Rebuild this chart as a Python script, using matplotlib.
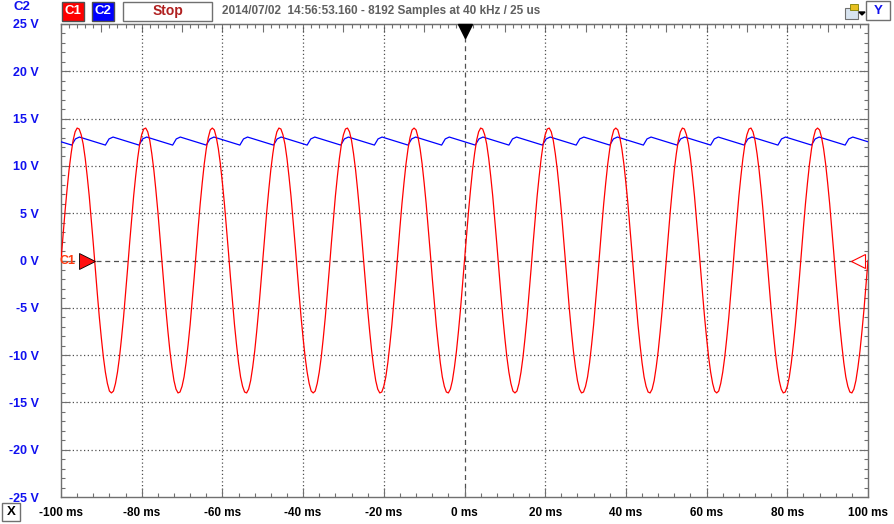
import numpy as np
import matplotlib
matplotlib.use("Agg")
import matplotlib.pyplot as plt
from matplotlib.patches import Rectangle, Polygon
import matplotlib.transforms as mtransforms

# ---------------- data ----------------
# channel C1 (red) sampled every 0.5 ms from -100 ms to +100 ms (volts)
c1_values = [
    0, 2.6, 5.2, 7.5, 9.6, 11.3, 12.7, 13.6, 14.0, 13.9, 13.3, 12.3, 10.8, 8.9, 6.8, 4.3, 1.8, -0.9, -3.5, -6.0,
    -8.2, -10.2, -11.8, -13.0, -13.8, -14.0, -13.8, -13.0, -11.8, -10.2, -8.2, -6.0, -3.5, -0.9, 1.8, 4.3, 6.8, 8.9, 10.8, 12.3,
    13.3, 13.9, 14.0, 13.6, 12.7, 11.3, 9.6, 7.5, 5.2, 2.6,
    0, -2.6, -5.2, -7.5, -9.6, -11.3, -12.7, -13.6, -14.0, -13.9, -13.3, -12.3, -10.8, -8.9, -6.8, -4.3, -1.8, 0.9, 3.5, 6.0,
    8.2, 10.2, 11.8, 13.0, 13.8, 14.0, 13.8, 13.0, 11.8, 10.2, 8.2, 6.0, 3.5, 0.9, -1.8, -4.3, -6.8, -8.9, -10.8, -12.3,
    -13.3, -13.9, -14.0, -13.6, -12.7, -11.3, -9.6, -7.5, -5.2, -2.6,
    0, 2.6, 5.2, 7.5, 9.6, 11.3, 12.7, 13.6, 14.0, 13.9, 13.3, 12.3, 10.8, 8.9, 6.8, 4.3, 1.8, -0.9, -3.5, -6.0,
    -8.2, -10.2, -11.8, -13.0, -13.8, -14.0, -13.8, -13.0, -11.8, -10.2, -8.2, -6.0, -3.5, -0.9, 1.8, 4.3, 6.8, 8.9, 10.8, 12.3,
    13.3, 13.9, 14.0, 13.6, 12.7, 11.3, 9.6, 7.5, 5.2, 2.6,
    0, -2.6, -5.2, -7.5, -9.6, -11.3, -12.7, -13.6, -14.0, -13.9, -13.3, -12.3, -10.8, -8.9, -6.8, -4.3, -1.8, 0.9, 3.5, 6.0,
    8.2, 10.2, 11.8, 13.0, 13.8, 14.0, 13.8, 13.0, 11.8, 10.2, 8.2, 6.0, 3.5, 0.9, -1.8, -4.3, -6.8, -8.9, -10.8, -12.3,
    -13.3, -13.9, -14.0, -13.6, -12.7, -11.3, -9.6, -7.5, -5.2, -2.6,
    0, 2.6, 5.2, 7.5, 9.6, 11.3, 12.7, 13.6, 14.0, 13.9, 13.3, 12.3, 10.8, 8.9, 6.8, 4.3, 1.8, -0.9, -3.5, -6.0,
    -8.2, -10.2, -11.8, -13.0, -13.8, -14.0, -13.8, -13.0, -11.8, -10.2, -8.2, -6.0, -3.5, -0.9, 1.8, 4.3, 6.8, 8.9, 10.8, 12.3,
    13.3, 13.9, 14.0, 13.6, 12.7, 11.3, 9.6, 7.5, 5.2, 2.6,
    0, -2.6, -5.2, -7.5, -9.6, -11.3, -12.7, -13.6, -14.0, -13.9, -13.3, -12.3, -10.8, -8.9, -6.8, -4.3, -1.8, 0.9, 3.5, 6.0,
    8.2, 10.2, 11.8, 13.0, 13.8, 14.0, 13.8, 13.0, 11.8, 10.2, 8.2, 6.0, 3.5, 0.9, -1.8, -4.3, -6.8, -8.9, -10.8, -12.3,
    -13.3, -13.9, -14.0, -13.6, -12.7, -11.3, -9.6, -7.5, -5.2, -2.6,
    0, 2.6, 5.2, 7.5, 9.6, 11.3, 12.7, 13.6, 14.0, 13.9, 13.3, 12.3, 10.8, 8.9, 6.8, 4.3, 1.8, -0.9, -3.5, -6.0,
    -8.2, -10.2, -11.8, -13.0, -13.8, -14.0, -13.8, -13.0, -11.8, -10.2, -8.2, -6.0, -3.5, -0.9, 1.8, 4.3, 6.8, 8.9, 10.8, 12.3,
    13.3, 13.9, 14.0, 13.6, 12.7, 11.3, 9.6, 7.5, 5.2, 2.6,
    0, -2.6, -5.2, -7.5, -9.6, -11.3, -12.7, -13.6, -14.0, -13.9, -13.3, -12.3, -10.8, -8.9, -6.8, -4.3, -1.8, 0.9, 3.5, 6.0,
    8.2, 10.2, 11.8, 13.0, 13.8, 14.0, 13.8, 13.0, 11.8, 10.2, 8.2, 6.0, 3.5, 0.9, -1.8, -4.3, -6.8, -8.9, -10.8, -12.3,
    -13.3, -13.9, -14.0, -13.6, -12.7, -11.3, -9.6, -7.5, -5.2, -2.6,
    0,
]
c1_times = np.linspace(-100, 100, len(c1_values))

# channel C2 (blue) ripple vertices: time (ms), value (V)
c2_times = [
    -100.0,
    -97.33, -96.43, -95.43, -89.00, -88.10, -87.10, -80.67, -79.77, -78.77,
    -72.33, -71.43, -70.43, -64.00, -63.10, -62.10, -55.67, -54.77, -53.77,
    -47.33, -46.43, -45.43, -39.00, -38.10, -37.10, -30.67, -29.77, -28.77,
    -22.33, -21.43, -20.43, -14.00, -13.10, -12.10, -5.67, -4.77, -3.77,
    2.67, 3.57, 4.57, 11.00, 11.90, 12.90, 19.33, 20.23, 21.23,
    27.67, 28.57, 29.57, 36.00, 36.90, 37.90, 44.33, 45.23, 46.23,
    52.67, 53.57, 54.57, 61.00, 61.90, 62.90, 69.33, 70.23, 71.23,
    77.67, 78.57, 79.57, 86.00, 86.90, 87.90, 94.33, 95.23, 96.23,
    100.0,
]
c2_values = [12.55] + [12.2, 12.85, 13.05] * 24 + [12.55]

x_ticks = [-100, -80, -60, -40, -20, 0, 20, 40, 60, 80, 100]
x_labels = ["-100 ms", "-80 ms", "-60 ms", "-40 ms", "-20 ms", "0 ms",
            "20 ms", "40 ms", "60 ms", "80 ms", "100 ms"]
y_ticks = [-25, -20, -15, -10, -5, 0, 5, 10, 15, 20, 25]
y_labels = ["-25 V", "-20 V", "-15 V", "-10 V", "-5 V", "0 V",
            "5 V", "10 V", "15 V", "20 V", "25 V"]

title_text = "2014/07/02  14:56:53.160 - 8192 Samples at 40 kHz / 25 us"

# ---------------- figure ----------------
plt.rcParams['font.family'] = ['Liberation Sans', 'DejaVu Sans']
W, H = 894, 524
fig = plt.figure(figsize=(W / 100, H / 100), dpi=100)
fig.patch.set_facecolor('white')

def fx(px):
    return px / W

def fy(py):
    return 1 - py / H

ax = fig.add_axes([fx(61), fy(497), fx(868) - fx(61), fy(24) - fy(497)])
ax.set_xlim(-100, 100)
ax.set_ylim(-25, 25)
ax.set_facecolor('white')

frame_col = '#707070'
for s in ax.spines.values():
    s.set_color(frame_col)
    s.set_linewidth(1.0)

# grid (dotted) except zero lines (dashed)
grid_col = '#505050'
for v in y_ticks:
    if v in (-25, 25):
        continue
    if v == 0:
        ax.axhline(v, color=grid_col, lw=0.9, ls=(0, (4, 3)), zorder=1)
    else:
        ax.axhline(v, color=grid_col, lw=0.9, ls=(0, (1, 2)), zorder=1)
for v in x_ticks:
    if v in (-100, 100):
        continue
    if v == 0:
        ax.axvline(v, color=grid_col, lw=0.9, ls=(0, (4, 3)), zorder=1)
    else:
        ax.axvline(v, color=grid_col, lw=0.9, ls=(0, (1, 2)), zorder=1)

# ticks
ax.set_xticks(x_ticks)
ax.set_xticklabels(x_labels, fontsize=8.5, fontweight='bold', color='black')
ax.get_xticklabels()[0].set_x(-101.8)
ax.set_xticks(np.arange(-100, 101, 4), minor=True)
ax.set_yticks(y_ticks)
ax.set_yticklabels(y_labels, fontsize=9, fontweight='bold', color='#1010f0')
ax.set_yticks(np.arange(-25, 26, 1), minor=True)
ax.tick_params(axis='both', which='major', direction='in', length=6.5, width=0.8,
               color=frame_col, top=False, right=True)
ax.tick_params(axis='both', which='minor', direction='in', length=3.2, width=0.8,
               color=frame_col, top=False, right=True)
ax.tick_params(axis='x', which='major', pad=7)
ax.tick_params(axis='y', which='major', pad=16)

secx = ax.secondary_xaxis('top')
secx.set_xticks(np.arange(-100, 101, 10))
secx.set_xticklabels([])
secx.set_xticks(np.arange(-100, 101, 2), minor=True)
secx.tick_params(which='major', direction='in', length=5.5, width=0.8, color=frame_col)
secx.tick_params(which='minor', direction='in', length=3.2, width=0.8, color=frame_col)
secx.spines['top'].set_color(frame_col)

# traces
ax.plot(c2_times, c2_values, color='#0000ff', lw=0.9, zorder=3)
ax.plot(c1_times, c1_values, color='#ff0000', lw=0.9, zorder=4)

# markers: C1 level arrow on left, hollow on right, trigger on top
off = mtransforms.offset_copy(ax.transData, fig=fig, x=26 * 0.72, y=0, units='points')
ax.plot([-100], [0], marker='>', ms=11, mfc='#ff1010', mec='black', mew=0.6,
        transform=off, clip_on=False, zorder=6)
ax.text(-100, 0, 'C1', transform=mtransforms.offset_copy(ax.transData, fig=fig, x=5, y=0, units='points'),
        color='#ff3a10', fontsize=9, fontweight='bold', va='center', ha='center', zorder=6)
offr = mtransforms.offset_copy(ax.transData, fig=fig, x=-7, y=0, units='points')
ax.plot([100], [0], marker='<', ms=10, mfc='white', mec='#ff0000', mew=0.8,
        transform=offr, clip_on=False, zorder=6)
offt = mtransforms.offset_copy(ax.transData, fig=fig, x=0, y=-5, units='points')
ax.plot([0], [25], marker='v', ms=10, mfc='black', mec='black',
        transform=offt, clip_on=False, zorder=6)

# header decorations
fig.text(fx(14), fy(7), 'C2', color='#1010ee', fontsize=9.5, fontweight='bold', va='center', ha='left')

def button(x0, y0, x1, y1, face, edge, text, tcol, size=9.5, lw=1.0):
    r = Rectangle((fx(x0), fy(y1)), fx(x1) - fx(x0), fy(y0) - fy(y1), transform=fig.transFigure,
                  facecolor=face, edgecolor=edge, lw=lw)
    fig.patches.append(r)
    fig.text((fx(x0) + fx(x1)) / 2, (fy(y0) + fy(y1)) / 2, text, color=tcol, fontsize=size,
             fontweight='bold', ha='center', va='center')

button(62, 2, 84, 21, '#ff0000', '#505050', 'C1', 'white', 9.5)
button(92, 2, 114, 21, '#0000ff', '#505050', 'C2', 'white', 9.5)
button(123, 2, 212, 21, 'white', '#707070', 'Stop', '#b02020', 10)
fig.text(fx(222), fy(11), title_text, color='#606060', fontsize=8.5, fontweight='bold',
         ha='left', va='center')
button(866, 1, 890, 20, 'white', '#707070', 'Y', '#1010ee', 9.5)
button(2, 503, 20, 521, 'white', '#707070', 'X', 'black', 9.5)

# small toolbar icon
icon = Rectangle((fx(845), fy(19)), fx(13), fy(8) - fy(19), transform=fig.transFigure,
                 facecolor='#d8e4f0', edgecolor='#707070', lw=0.8)
fig.patches.append(icon)
icon2 = Rectangle((fx(850), fy(10)), fx(8), fy(4) - fy(10), transform=fig.transFigure,
                  facecolor='#e8c020', edgecolor='#808000', lw=0.6)
fig.patches.append(icon2)
tri = Polygon([[fx(859), fy(12)], [fx(865), fy(12)], [fx(862), fy(15)]], closed=True,
              transform=fig.transFigure, facecolor='black', edgecolor='black')
fig.patches.append(tri)

fig.savefig('out.png', dpi=100, facecolor='white')
